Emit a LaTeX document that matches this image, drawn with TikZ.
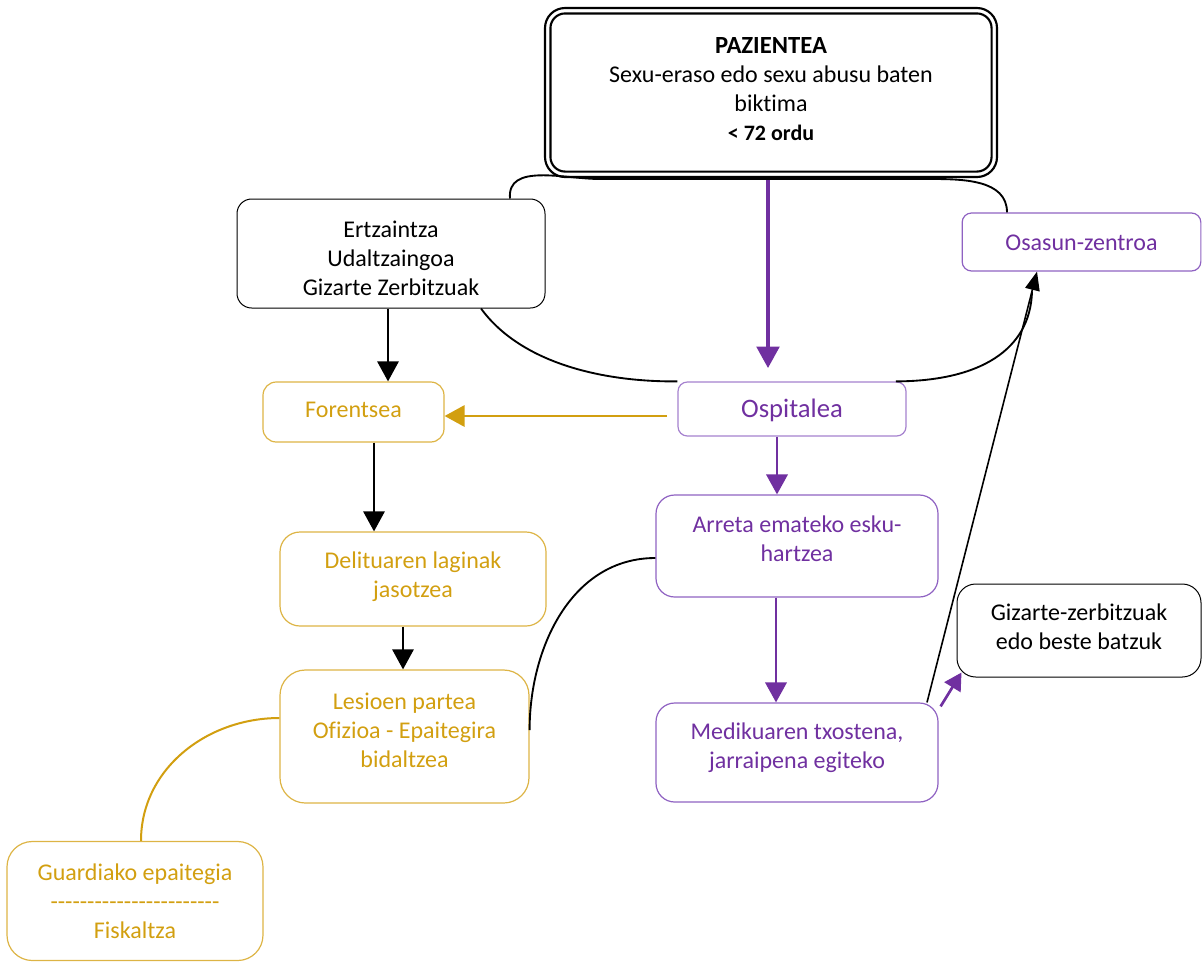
\documentclass[tikz,border=0pt]{standalone}
\usepackage{fontspec}
\setmainfont{Carlito}[Ligatures=NoCommon]
\usetikzlibrary{arrows.meta}
\definecolor{pur}{HTML}{7030A0}
\definecolor{purb}{HTML}{8F62C2}
\definecolor{gld}{HTML}{D29F10}
\definecolor{gldb}{HTML}{DDB445}
% text block shifted down by #1 (plus a fixed 1.9pt) inside its box
\newcommand\tbx[2]{\raisebox{0pt}[\dimexpr\height+#1+1.9pt\relax][\dimexpr\depth-#1-1.9pt\relax]{\begin{tabular}{@{}c@{}}#2\end{tabular}}}
\newcommand\dd{-\kern0pt}
\tikzset{
  base/.style={draw, inner sep=0pt, font=\fontsize{18}{21.75}\selectfont},
  blk/.style={base, black, line width=0.75pt},
  pbox/.style={base, draw=purb, text=pur, line width=0.9pt},
  gbox/.style={base, draw=gldb, text=gld, line width=0.9pt},
  bline/.style={black, line width=1.4pt},
  gline/.style={gld, line width=1.5pt},
  parr/.style={pur, line width=2pt, -{Triangle[length=15pt,width=16pt]}},
  barr/.style={black, line width=1.4pt, -{Triangle[length=15pt,width=16pt]}},
  garr/.style={gld, line width=1.6pt, -{Triangle[length=15pt,width=16pt]}},
}
\begin{document}
\begin{tikzpicture}[x=0.75pt,y=-0.75pt]
\useasboundingbox (0,0) rectangle (1202,961);
% patient
\node[base, line width=1.6pt, rounded corners=15pt, minimum width=339pt, minimum height=126.75pt] (paz) at (771,92.5)
 {\tbx{-2.8pt}{{\fontsize{18.5}{21.75}\selectfont\bfseries PAZIENTEA}\\Sexu-eraso edo sexu abusu baten\\biktima\\{\fontsize{16.5}{21.75}\selectfont\bfseries <~72 ordu}}};
\draw[line width=1.6pt, rounded corners=11pt] ([shift={(6.5,6.5)}]paz.north west) rectangle ([shift={(-6.5,-6.5)}]paz.south east);
% boxes
\node[blk, rounded corners=11pt, minimum width=231pt, minimum height=81.75pt] (ertz) at (391,253.5) {\tbx{3.4pt}{Ertzaintza\\Udaltzaingoa\\Gizarte Zerbitzuak}};
\node[pbox, rounded corners=7pt, minimum width=179pt, minimum height=43.5pt] (osa) at (1081.5,242) {\tbx{0pt}{Osasun-zentroa}};
\node[pbox, draw=purb!80, rounded corners=7pt, minimum width=171pt, minimum height=40.5pt] (osp) at (792,409) {\tbx{0pt}{\fontsize{20}{24}\selectfont Ospitalea}};
\node[gbox, rounded corners=10pt, minimum width=135.75pt, minimum height=45pt] (for) at (353.5,412) {\tbx{-2.25pt}{Forentsea}};
\node[gbox, rounded corners=15pt, minimum width=199.5pt, minimum height=70.5pt] (del) at (413,579) {\tbx{-3pt}{Delituaren laginak\\jasotzea}};
\node[gbox, rounded corners=19pt, minimum width=186.75pt, minimum height=99.75pt] (les) at (404.5,736.5) {\tbx{-4.9pt}{Lesioen partea\\Ofizioa - Epaitegira\\bidaltzea}};
\node[gbox, rounded corners=19pt, minimum width=192pt, minimum height=89.25pt] (gua) at (135,901) {\tbx{0.4pt}{Guardiako epaitegia\\\dd\dd\dd\dd\dd\dd\dd\dd\dd\dd\dd\dd\dd\dd\dd\dd\dd\dd\dd\dd\dd\dd\dd\\Fiskaltza}};
\node[pbox, rounded corners=14pt, minimum width=211.5pt, minimum height=76.5pt] (arr) at (797,546) {\tbx{-5.6pt}{Arreta emateko esku-\\hartzea}};
\node[pbox, rounded corners=14pt, minimum width=211.5pt, minimum height=74.25pt] (med) at (797,752.5) {\tbx{-5.25pt}{Medikuaren txostena,\\jarraipena egiteko}};
\node[blk, rounded corners=14pt, minimum width=183pt, minimum height=69.75pt] (giz) at (1079,630.5) {\tbx{-2.6pt}{Gizarte-zerbitzuak\\edo beste batzuk}};
% connectors
\coordinate (ospin) at (768,368);
\draw[pur, line width=2.4pt, -{Triangle[length=16pt,width=17pt]}] (paz.south -| ospin) -- (ospin);
\draw[bline] (ertz.north -| 510,0) to[out=95,in=180] (600,179) -- (930,179) to[out=0,in=90] (osa.north -| 1007,0);
\draw[bline] (ertz.south -| 481,0) .. controls (520,362) and (600,382) .. (osp.north west);
\coordinate (osjoin) at (1032,292);
\draw[bline] ([xshift=-8pt]osp.north east) .. controls (980,381) and (1030,350) .. (osjoin);
\draw[barr] (ertz.south -| 388,0) -- (for.north -| 388,0);
\coordinate (gstart) at (667,416);
\draw[garr] (gstart) -- (for.east |- gstart);
\draw[barr] (for.south -| 374,0) -- (del.north -| 374,0);
\draw[barr] (del.south -| 403,0) -- (les.north -| 403,0);
\draw[bline] (arr.west |- 0,558) to[out=180,in=90] (les.east |- 0,730);
\draw[gline] (les.west |- 0,718) to[out=180,in=90] (gua.north -| 141,0);
\draw[parr] (osp.south -| 777,0) -- (arr.north -| 777,0);
\draw[parr] (arr.south -| 776,0) -- (med.north -| 776,0);
\draw[pur, line width=2pt, -{Triangle[length=13pt,width=14pt]}] ([shift={(2,4)}]med.north east) -- ([shift={(5,-5)}]giz.south west);
\draw[black, line width=1.2pt, -{Triangle[length=14pt,width=11pt]}] (med.north -| 927,0) -- (osa.south -| 1037,0);
\end{tikzpicture}
\end{document}
